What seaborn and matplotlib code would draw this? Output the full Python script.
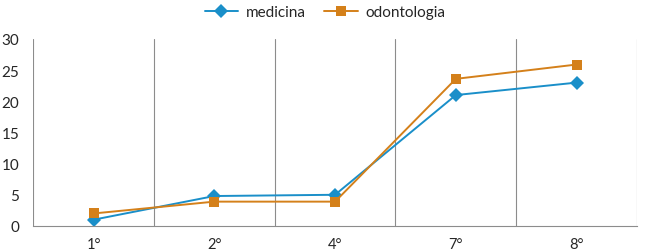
import pandas as pd
import matplotlib.pyplot as plt
import seaborn as sns

# Data
periodos = ["1°", "2°", "4°", "7°", "8°"]
medicina = [1.0, 4.8, 5.0, 21.0, 23.0]
odontologia = [2.0, 3.9, 3.9, 23.6, 25.9]

df = pd.DataFrame({
    "pos": list(range(len(periodos))) * 2,
    "valor": medicina + odontologia,
    "curso": ["medicina"] * len(periodos) + ["odontologia"] * len(periodos),
})

sns.set_style("white")
plt.rcParams["font.family"] = ["Lato", "DejaVu Sans"]

fig = plt.figure(figsize=(6.5, 2.53), dpi=100)
ax = fig.add_axes([0.051, 0.103, 0.929, 0.739])

sns.lineplot(data=df, x="pos", y="valor", hue="curso", style="curso",
             palette={"medicina": "#1a8fc9", "odontologia": "#d4801a"},
             markers={"medicina": "D", "odontologia": "s"}, dashes=False,
             markersize=7, linewidth=1.4, markeredgewidth=0, ax=ax, legend=False)

ax.set_xlim(-0.5, len(periodos) - 0.5)
ax.set_ylim(0, 30)
ax.set_xticks(range(len(periodos)))
ax.set_xticklabels(periodos)
ax.set_yticks(range(0, 31, 5))
ax.set_xticks([i + 0.5 for i in range(-1, len(periodos))], minor=True)
ax.grid(False)
ax.grid(True, which="minor", axis="x", color="#8c8c8c", linewidth=0.8)
ax.tick_params(which="both", length=0)
ax.tick_params(axis="x", pad=8, labelsize=10.5)
ax.tick_params(axis="y", pad=10, labelsize=11)
ax.set_xlabel("")
ax.set_ylabel("")
for s in ["top", "right", "left"]:
    ax.spines[s].set_visible(False)
ax.spines["bottom"].set_color("#8c8c8c")
ax.spines["bottom"].set_linewidth(0.8)

handles = [
    plt.Line2D([], [], color="#1a8fc9", marker="D", markersize=7, lw=1.4, mew=0),
    plt.Line2D([], [], color="#d4801a", marker="s", markersize=7, lw=1.4, mew=0),
]
fig.legend(handles, ["medicina", "odontologia"], loc="upper center",
           bbox_to_anchor=(0.5, 1.03), ncol=2, frameon=False, fontsize=11,
           handlelength=2.2, columnspacing=1.2, handletextpad=0.5)

fig.savefig("out.png", dpi=100)
